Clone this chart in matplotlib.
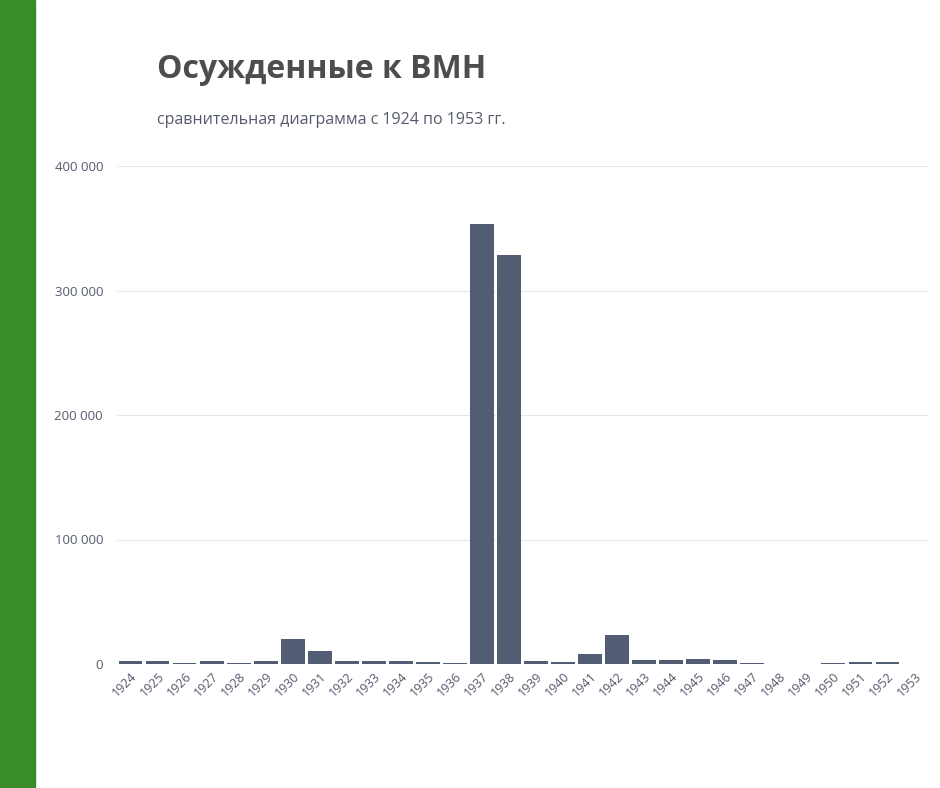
import matplotlib
matplotlib.use("Agg")
import matplotlib.pyplot as plt
from matplotlib.patches import Rectangle

years = [str(y) for y in range(1924, 1954)]
values = [2550, 2433, 990, 2363, 869, 2109, 20201, 10651, 2728, 2154, 2056, 1229, 1118,
          353074, 328618, 2552, 1649, 8011, 23278, 3579, 3029, 4252, 2896, 1105, 0, 0,
          475, 1609, 1612, 198]
yticks = [0, 100000, 200000, 300000, 400000]
ytick_labels = ["0", "100 000", "200 000", "300 000", "400 000"]

plt.rcParams['font.family'] = ['Open Sans', 'DejaVu Sans']
fig = plt.figure(figsize=(9.4, 7.88), dpi=100)
fig.patches.append(Rectangle((0, 0), 35/940, 1, transform=fig.transFigure, color='#3a8c2a', zorder=0))
fig.text(157/940, 1-70/788, "Осужденные к ВМН", fontsize=23, fontweight='bold', color='#4d4d4d', va='center')
fig.text(157/940, 1-120/788, "сравнительная диаграмма с 1924 по 1953 гг.", fontsize=11.5, color='#555b6e', va='center')

ax = fig.add_axes([117/940, 124/788, 811/940, 498/788])
x = range(len(years))
ax.bar(x, values, width=0.88, color='#525c72')
ax.set_xlim(-0.5, len(years)-0.5)
ax.set_ylim(0, 400000)
ax.set_yticks(yticks)
ax.set_yticklabels(ytick_labels, color='#555b6e', fontsize=9.5)
ax.set_xticks(list(x))
ax.set_xticklabels(years, rotation=45, ha='right', rotation_mode='anchor', color='#555b6e', fontsize=9)
ax.grid(axis='y', color='#e6e6e6', linewidth=0.8)
ax.set_axisbelow(True)
for s in ax.spines.values():
    s.set_visible(False)
ax.tick_params(length=0, pad=10)
ax.tick_params(axis='x', pad=4)
fig.savefig("out.png", dpi=100)
